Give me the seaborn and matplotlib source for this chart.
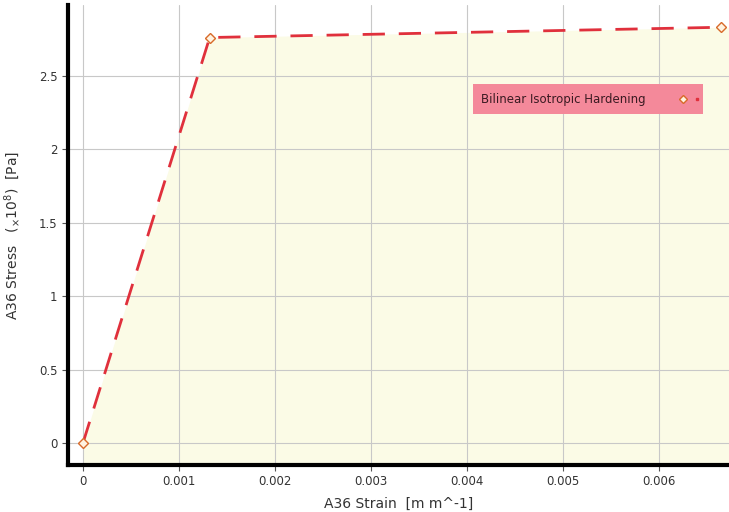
import matplotlib
matplotlib.use("Agg")
import matplotlib.pyplot as plt
import seaborn as sns
import pandas as pd

# Bilinear isotropic hardening curve, stress in units of 1e8 Pa
strain = [0.0, 0.00132, 0.00665]
stress = [0.0, 2.76, 2.83]

xticks = [0, 0.001, 0.002, 0.003, 0.004, 0.005, 0.006]
xtick_labels = ["0", "0.001", "0.002", "0.003", "0.004", "0.005", "0.006"]
yticks = [0, 0.5, 1, 1.5, 2, 2.5]
ytick_labels = ["0", "0.5", "1", "1.5", "2", "2.5"]

df = pd.DataFrame({"Strain": strain, "Stress": stress})

sns.set_style("white")
fig = plt.figure(figsize=(7.29, 5.12), dpi=100)
ax = fig.add_axes([0.0933, 0.0918, 0.9067, 0.898])

xmin, xmax = -0.000156, 0.00673
ymin, ymax = -0.15, 2.98
ax.set_xlim(xmin, xmax)
ax.set_ylim(ymin, ymax)

# light yellow fill under the curve, carried on to the right edge
fx = list(df["Strain"]) + [xmax]
fy = list(df["Stress"]) + [stress[-1]]
ax.fill_between(fx, fy, ymin, color="#fbfbe6", zorder=0, linewidth=0)

ax.grid(True, color="#c8c8c8", linewidth=0.8)
ax.set_axisbelow(True)

sns.lineplot(data=df, x="Strain", y="Stress", ax=ax, color="#e0303c",
             linewidth=2.0, linestyle=(0, (8, 5)),
             label="Bilinear Isotropic Hardening", legend=False)
ax.plot(df["Strain"], df["Stress"], linestyle="none", marker="D",
        markersize=5, markerfacecolor="#fff3e0", markeredgecolor="#d86a2a",
        markeredgewidth=1.0, zorder=5)

ax.set_xticks(xticks)
ax.set_xticklabels(xtick_labels)
ax.set_yticks(yticks)
ax.set_yticklabels(ytick_labels)
ax.tick_params(axis="both", labelsize=8.5, colors="#333333", length=4,
               direction="out", left=True, bottom=True, color="#555555")

for side in ["top", "right"]:
    ax.spines[side].set_visible(False)
for side in ["left", "bottom"]:
    ax.spines[side].set_color("black")
    ax.spines[side].set_linewidth(3)

ax.set_xlabel("A36 Strain  [m m^-1]", fontsize=10, color="#333333", labelpad=6)
ax.set_ylabel(r"A36 Stress   ($_{\times}$10$^{8}$)  [Pa]", fontsize=10,
              color="#333333", labelpad=12)

# legend box
ax.text(0.00415, 2.34, "Bilinear Isotropic Hardening" + " " * 13, fontsize=8.5,
        color="#3a1a22", va="center", ha="left",
        bbox=dict(boxstyle="square,pad=0.7", facecolor="#f4899a",
                  edgecolor="none"))
ax.plot([0.00625], [2.34], marker="D", markersize=4, markerfacecolor="#fff3e0",
        markeredgecolor="#d86a2a", linestyle="none", zorder=6)
ax.plot([0.00640], [2.34], marker="s", markersize=2, color="#e0303c",
        linestyle="none", zorder=6)

fig.savefig("out.png", dpi=100)
